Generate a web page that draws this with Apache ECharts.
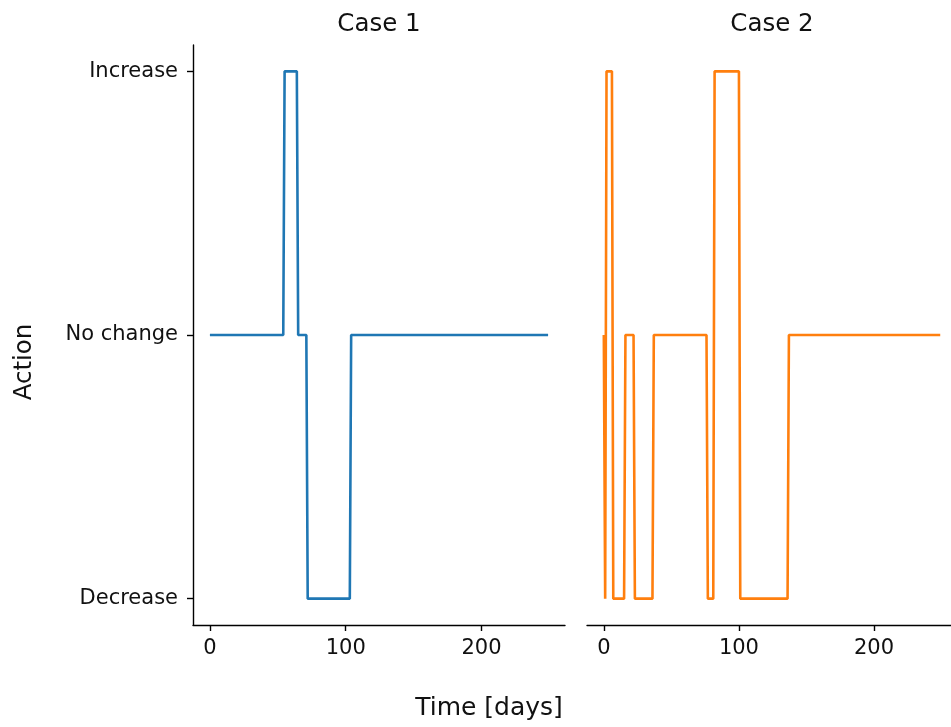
<!DOCTYPE html>
<html>
<head>
<meta charset="utf-8">
<script src="https://cdn.jsdelivr.net/npm/echarts@6/dist/echarts.min.js"></script>
<style>
html,body{margin:0;padding:0;background:#fff;}
#chart{width:951px;height:727px;}
</style>
</head>
<body>
<div id="chart"></div>
<script>
// ---- data (vertices of the step lines, day -> action level) ----
const case1Days   = [0, 54, 55, 64, 65, 71, 72, 103, 104, 249];
const case1Values = [0, 0, 1, 1, 0, 0, -1, -1, 0, 0];
const case2Days   = [0, 1, 2, 6, 7, 15, 16, 22, 23, 36, 37, 76, 77, 81, 82, 100, 101, 136, 137, 249];
const case2Values = [0, -1, 1, 1, -1, -1, 0, 0, -1, -1, 0, 0, -1, -1, 1, 1, -1, -1, 0, 0];
const panelTitles = ['Case 1', 'Case 2'];
const yTickValues = [-1, 0, 1];
const yTickLabels = ['Decrease', 'No change', 'Increase'];
const xTickValues = [0, 100, 200];
const xLabel = 'Time [days]';
const yLabel = 'Action';

const FONT = 'DejaVu Sans';
const TXT = '#111';
const TICK_FS = 21;

function pairs(xs, ys) { return xs.map((x, i) => [x, ys[i]]); }

// right panel runs past the canvas edge in the reference; keep the same scale
const grids = [
  {left: 193, top: 45, width: 372, height: 580},
  {left: 587, top: 45, width: 364, height: 580}
];
const xMax = [261.45, 256.97];

function xAxis(i) {
  return {
    type: 'value', gridIndex: i, min: -12.45, max: xMax[i],
    axisLine: {show: true, onZero: false, lineStyle: {color: '#000', width: 1.4}},
    axisTick: {show: true, length: 6, customValues: xTickValues, lineStyle: {color: '#000', width: 1.4}},
    axisLabel: {show: true, customValues: xTickValues, margin: 13, fontFamily: FONT, fontSize: TICK_FS, color: TXT},
    splitLine: {show: false}
  };
}
function yAxis(i) {
  return {
    type: 'value', gridIndex: i, min: -1.1, max: 1.1, show: i === 0,
    axisLine: {show: true, onZero: false, lineStyle: {color: '#000', width: 1.4}},
    axisTick: {show: true, length: 6, customValues: yTickValues, lineStyle: {color: '#000', width: 1.4}},
    axisLabel: {show: true, customValues: yTickValues, margin: 15, fontFamily: FONT, fontSize: TICK_FS, color: TXT,
      formatter: v => yTickLabels[yTickValues.indexOf(Math.round(v))]},
    splitLine: {show: false}
  };
}

const chart = echarts.init(document.getElementById('chart'), null, {renderer: 'canvas'});
chart.setOption({
  animation: false,
  backgroundColor: '#fff',
  grid: grids,
  xAxis: [xAxis(0), xAxis(1)],
  yAxis: [yAxis(0), yAxis(1)],
  series: [
    {type: 'line', xAxisIndex: 0, yAxisIndex: 0, data: pairs(case1Days, case1Values), showSymbol: false,
      lineStyle: {color: '#1f77b4', width: 2.6}, itemStyle: {color: '#1f77b4'}},
    {type: 'line', xAxisIndex: 1, yAxisIndex: 1, data: pairs(case2Days, case2Values), showSymbol: false,
      lineStyle: {color: '#ff7f0e', width: 2.6}, itemStyle: {color: '#ff7f0e'}}
  ],
  graphic: [
    {type: 'text', x: 379, y: 25, style: {text: panelTitles[0], font: '24.5px "DejaVu Sans"', fill: TXT, align: 'center', verticalAlign: 'middle'}},
    {type: 'text', x: 772, y: 25, style: {text: panelTitles[1], font: '24.5px "DejaVu Sans"', fill: TXT, align: 'center', verticalAlign: 'middle'}},
    {type: 'text', x: 489, y: 708, style: {text: xLabel, font: '25px "DejaVu Sans"', fill: TXT, align: 'center', verticalAlign: 'middle'}},
    {type: 'text', x: 25, y: 362, rotation: Math.PI / 2, style: {text: yLabel, font: '24.5px "DejaVu Sans"', fill: TXT, align: 'center', verticalAlign: 'middle'}}
  ]
});
</script>
</body>
</html>
